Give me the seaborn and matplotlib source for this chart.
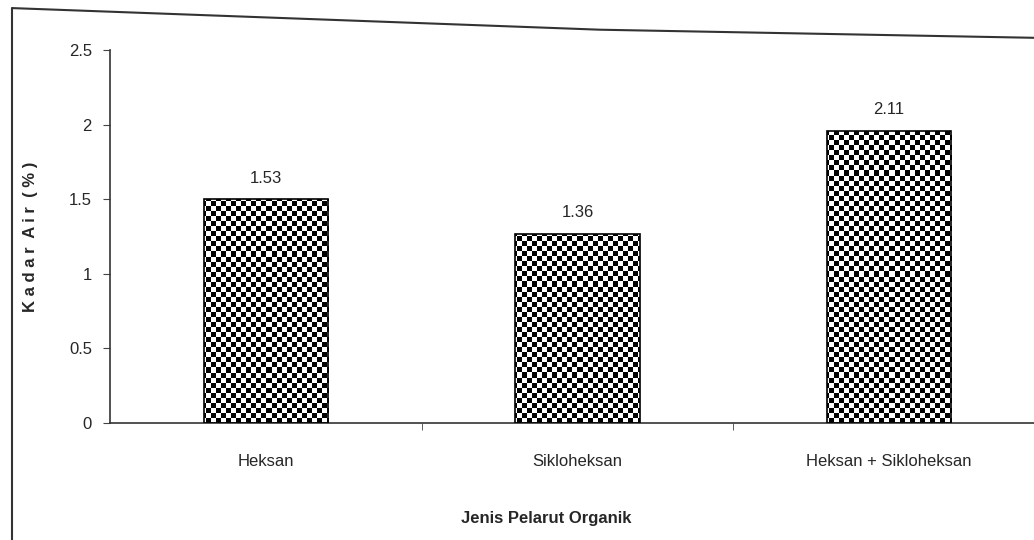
import numpy as np
import pandas as pd
import matplotlib
matplotlib.use("Agg")
import matplotlib.pyplot as plt
from matplotlib.lines import Line2D
import seaborn as sns

# Data
categories = ["Heksan", "Sikloheksan", "Heksan + Sikloheksan"]
bar_heights = [1.50, 1.27, 1.96]          # heights as drawn
bar_labels = ["1.53", "1.36", "2.11"]     # printed value labels
y_ticks = [0, 0.5, 1, 1.5, 2, 2.5]
y_tick_labels = ["0", "0.5", "1", "1.5", "2", "2.5"]

df = pd.DataFrame({"pelarut": categories, "kadar": bar_heights})

sns.set_style("ticks")
plt.rcParams["font.family"] = ["Liberation Sans Narrow", "Liberation Sans", "DejaVu Sans"]

fig = plt.figure(figsize=(10.34, 5.40), dpi=100)
ax = fig.add_axes([0.1064, 0.2167, 0.9042, 0.6907])

sns.barplot(data=df, x="pelarut", y="kadar", color="white", width=0.4,
            edgecolor="black", linewidth=1.2, ax=ax, zorder=2)

# checkerboard texture clipped to each bar
ax_w_px, ax_h_px = 0.9042 * 1034, 0.6907 * 540
cell = 5.0
nx, ny = int(ax_w_px / cell), int(ax_h_px / cell)
yy, xx = np.indices((ny, nx))
checker = ((xx + yy) % 2).astype(float)
for bar in ax.patches:
    im = ax.imshow(checker, cmap="gray", vmin=0, vmax=1, interpolation="nearest",
                   extent=(0, 1, 0, 1), transform=ax.transAxes, aspect="auto", zorder=1.5)
    im.set_clip_path(bar)
    bar.set_facecolor("none")
    bar.set_zorder(3)

for i, lab in enumerate(bar_labels):
    ax.text(i, bar_heights[i] + 0.09, lab, ha="center", va="bottom", fontsize=12)

ax.set_xlim(-0.5, 2.5)
ax.set_ylim(0, 2.5)
ax.set_yticks(y_ticks)
ax.set_yticklabels(y_tick_labels, fontsize=12)
ax.set_xticks(range(len(categories)))
ax.set_xticklabels(categories, fontsize=12)
ax.set_xticks([0.5, 1.5], minor=True)
ax.tick_params(axis="x", which="major", length=0, pad=22)
ax.tick_params(axis="x", which="minor", length=5, direction="out", color="#444")
ax.tick_params(axis="y", length=5, direction="out", color="#444", pad=8)

ax.set_xlabel("Jenis Pelarut Organik", fontsize=12, fontweight="bold", labelpad=22)
ax.set_ylabel("K a d a r  A i r  ( % )", fontsize=12, fontweight="bold", labelpad=22)
ax.xaxis.set_label_coords(0.467, -0.235)

sns.despine(ax=ax, top=True, right=True)
for s in ["left", "bottom"]:
    ax.spines[s].set_color("#333")
    ax.spines[s].set_linewidth(1.2)

# scanned page frame
fig.add_artist(Line2D([0.012, 0.012], [0.985, 0.0], color="#333", lw=1.5))
fig.add_artist(Line2D([0.012, 0.58, 1.0], [0.985, 0.945, 0.93], color="#333", lw=1.5))

fig.savefig("out.png", dpi=100)
